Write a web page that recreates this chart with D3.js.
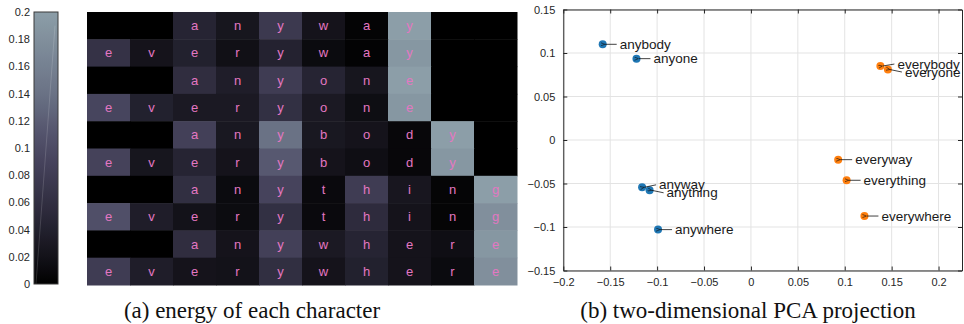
<!DOCTYPE html>
<html>
<head>
<meta charset="utf-8">
<script src="https://cdn.jsdelivr.net/npm/d3@7/dist/d3.min.js"></script>
<style>
  body { margin: 0; background: #fff; }
  svg { display: block; }
</style>
</head>
<body>
<svg id="fig" width="964" height="324"></svg>
<script>
// ---- data ----
var words = ["anyway", "everyway", "anyone", "everyone", "anybody",
  "everybody", "anything", "everything", "anywhere", "everywhere"];
// energy of each character, one list per word
var energy = [
  [0.045, 0.025, 0.075, 0.022, 0.004, 0.2],
  [0.065, 0.022, 0.04, 0.018, 0.042, 0.012, 0.003, 0.19],
  [0.058, 0.035, 0.08, 0.045, 0.025, 0.2],
  [0.092, 0.04, 0.03, 0.03, 0.062, 0.03, 0.015, 0.19],
  [0.085, 0.028, 0.14, 0.028, 0.022, 0.008, 0.2],
  [0.088, 0.025, 0.045, 0.022, 0.115, 0.022, 0.016, 0.008, 0.19],
  [0.06, 0.012, 0.09, 0.01, 0.08, 0.026, 0.005, 0.2],
  [0.105, 0.035, 0.02, 0.013, 0.062, 0.01, 0.055, 0.022, 0.005, 0.18],
  [0.058, 0.022, 0.085, 0.03, 0.045, 0.022, 0.016, 0.19],
  [0.08, 0.035, 0.022, 0.02, 0.06, 0.022, 0.04, 0.022, 0.012, 0.18]
];
var cbTicks = [0, 0.02, 0.04, 0.06, 0.08, 0.1, 0.12, 0.14, 0.16, 0.18, 0.2];

// PCA projection
var pcaWords = ["anybody", "anyone", "anyway", "anything", "anywhere",
  "everybody", "everyone", "everyway", "everything", "everywhere"];
var pcaX = [-0.158, -0.122, -0.116, -0.108, -0.099, 0.138, 0.146, 0.093, 0.102, 0.121];
var pcaY = [0.110, 0.0935, -0.0544, -0.0578, -0.103, 0.085, 0.081, -0.0226, -0.0463, -0.0874];
var pcaGroup = ["any", "any", "any", "any", "any", "every", "every", "every", "every", "every"];
var xTicks = [-0.2, -0.15, -0.1, -0.05, 0, 0.05, 0.1, 0.15, 0.2];
var yTicks = [-0.15, -0.1, -0.05, 0, 0.05, 0.1, 0.15];

var captions = ["(a) energy of each character", "(b) two-dimensional PCA projection"];

// ---- drawing ----
var svg = d3.select("#fig");
var sans = "'Liberation Sans', Arial, Helvetica, sans-serif";
var axisCol = "#262626";

var cStops = [0, 0.02, 0.05, 0.09, 0.11, 0.14, 0.2];
var color = d3.scaleLinear()
  .domain(cStops)
  .range(["#000000", "#131219", "#2a2838", "#46435c", "#53536c", "#6a7285", "#8c9ea8"])
  .clamp(true);

// colorbar
var cb = { x: 34, w: 24, top: 12, bottom: 284 };
var cbScale = d3.scaleLinear().domain([0, 0.2]).range([cb.bottom, cb.top]);
var grad = svg.append("defs").append("linearGradient")
  .attr("id", "cbgrad").attr("x1", 0).attr("y1", 1).attr("x2", 0).attr("y2", 0);
grad.selectAll("stop")
  .data(d3.range(0, 0.2001, 0.005)).enter().append("stop")
  .attr("offset", function (d) { return d / 0.2; })
  .attr("stop-color", function (d) { return color(d); });
svg.append("rect")
  .attr("x", cb.x).attr("y", cb.top)
  .attr("width", cb.w).attr("height", cb.bottom - cb.top)
  .attr("fill", "url(#cbgrad)");
svg.append("line")
  .attr("x1", cb.x + 2).attr("y1", cbScale(0))
  .attr("x2", cb.x + cb.w - 3).attr("y2", cbScale(0.19))
  .attr("stroke", "#fff").attr("stroke-opacity", 0.15).attr("stroke-width", 1);
svg.append("rect")
  .attr("x", cb.x).attr("y", cb.top)
  .attr("width", cb.w).attr("height", cb.bottom - cb.top)
  .attr("fill", "none").attr("stroke", "#3a3a3a").attr("stroke-width", 1);
var fmt = function (d) { return d3.format("")(+d.toFixed(2)); };
var cbAxis = svg.append("g")
  .attr("transform", "translate(" + cb.x + ",0)")
  .call(d3.axisLeft(cbScale).tickValues(cbTicks).tickSize(0).tickPadding(4).tickFormat(fmt));
cbAxis.select(".domain").remove();
cbAxis.selectAll("text").attr("font-family", sans).attr("font-size", 11).attr("fill", axisCol);

// heatmap
var nCols = 10;
var hx = d3.scaleBand().domain(d3.range(nCols)).range([87, 517]);
var hy = d3.scaleBand().domain(words).range([12, 285]);
var cells = [];
words.forEach(function (w, r) {
  var start = w.indexOf("every") === 0 ? 0 : 2;
  for (var c = 0; c < nCols; c++) {
    var i = c - start;
    var ch = (i >= 0 && i < w.length) ? w[i] : null;
    cells.push({ word: w, col: c, ch: ch, v: ch ? energy[r][i] : null });
  }
});
var hm = svg.append("g");
hm.selectAll("rect")
  .data(cells).enter().append("rect")
  .attr("x", function (d) { return hx(d.col); })
  .attr("y", function (d) { return hy(d.word); })
  .attr("width", hx.bandwidth() + 0.5)
  .attr("height", hy.bandwidth() + 0.5)
  .attr("fill", function (d) { return d.ch ? color(d.v) : "#000"; });
hm.selectAll("text")
  .data(cells.filter(function (d) { return d.ch; })).enter().append("text")
  .attr("x", function (d) { return hx(d.col) + hx.bandwidth() / 2; })
  .attr("y", function (d) { return hy(d.word) + hy.bandwidth() / 2; })
  .attr("text-anchor", "middle")
  .attr("dominant-baseline", "central")
  .attr("font-family", sans)
  .attr("font-size", 13)
  .attr("fill", "#e377c2")
  .text(function (d) { return d.ch; });

// scatter
var sx = d3.scaleLinear().domain([-0.2, 0.225]).range([563.3, 962]);
var sy = d3.scaleLinear().domain([-0.15, 0.15]).range([270.5, 9.5]);
var sc = svg.append("g");
sc.append("g").selectAll("line")
  .data(xTicks).enter().append("line")
  .attr("x1", sx).attr("x2", sx)
  .attr("y1", sy(-0.15)).attr("y2", sy(0.15))
  .attr("stroke", "#e3e3e3").attr("stroke-width", 1);
sc.append("g").selectAll("line")
  .data(yTicks).enter().append("line")
  .attr("y1", sy).attr("y2", sy)
  .attr("x1", sx(-0.2)).attr("x2", sx(0.225))
  .attr("stroke", "#e3e3e3").attr("stroke-width", 1);

function styleAxis(g) {
  g.select(".domain").attr("stroke", axisCol);
  g.selectAll(".tick line").attr("stroke", axisCol);
  g.selectAll("text").attr("font-family", sans).attr("font-size", 11).attr("fill", axisCol);
}
sc.append("g").attr("transform", "translate(0," + sy(-0.15) + ")")
  .call(d3.axisBottom(sx).tickValues(xTicks).tickSizeInner(-4).tickSizeOuter(0).tickPadding(8).tickFormat(fmt))
  .call(styleAxis);
sc.append("g").attr("transform", "translate(0," + sy(0.15) + ")")
  .call(d3.axisTop(sx).tickValues(xTicks).tickSizeInner(-4).tickSizeOuter(0).tickFormat(""))
  .call(styleAxis);
sc.append("g").attr("transform", "translate(" + sx(-0.2) + ",0)")
  .call(d3.axisLeft(sy).tickValues(yTicks).tickSizeInner(-4).tickSizeOuter(0).tickPadding(8).tickFormat(fmt))
  .call(styleAxis);
sc.append("g").attr("transform", "translate(" + sx(0.225) + ",0)")
  .call(d3.axisRight(sy).tickValues(yTicks).tickSizeInner(-4).tickSizeOuter(0).tickFormat(""))
  .call(styleAxis);

svg.select("defs").append("marker")
  .attr("id", "arr").attr("viewBox", "0 0 10 10")
  .attr("refX", 0).attr("refY", 5)
  .attr("markerWidth", 5).attr("markerHeight", 5)
  .attr("orient", "auto-start-reverse")
  .append("path").attr("d", "M10,1 L0,5 L10,9").attr("fill", "none").attr("stroke", "#111").attr("stroke-width", 1.5);

var pts = pcaWords.map(function (w, i) {
  return { name: w, x: pcaX[i], y: pcaY[i], g: pcaGroup[i] };
});
// small vertical nudges so the crowded labels sit as in the figure
var nudge = { everybody: -2, everyone: 2.5, anyway: -2.5, anything: 2.5 };
var dyOf = function (d) { return nudge[d.name] || 0; };
var groupColor = d3.scaleOrdinal().domain(["any", "every"]).range(["#1f77b4", "#ff7f0e"]);
sc.append("g").selectAll("circle")
  .data(pts).enter().append("circle")
  .attr("cx", function (d) { return sx(d.x); })
  .attr("cy", function (d) { return sy(d.y); })
  .attr("r", 4)
  .attr("fill", function (d) { return groupColor(d.g); });
var lab = sc.append("g");
lab.selectAll("line")
  .data(pts).enter().append("line")
  .attr("x1", function (d) { return sx(d.x) + 2; })
  .attr("y1", function (d) { return sy(d.y); })
  .attr("x2", function (d) { return sx(d.x) + 14; })
  .attr("y2", function (d) { return sy(d.y) + dyOf(d); })
  .attr("stroke", "#111").attr("stroke-width", 0.8)
  .attr("marker-start", "url(#arr)");
lab.selectAll("text")
  .data(pts).enter().append("text")
  .attr("x", function (d) { return sx(d.x) + 17; })
  .attr("y", function (d) { return sy(d.y) + dyOf(d); })
  .attr("dominant-baseline", "central")
  .attr("font-family", sans)
  .attr("font-size", 13.5)
  .attr("fill", "#1a1a1a")
  .text(function (d) { return d.name; });

// captions
svg.selectAll("text.cap")
  .data(captions).enter().append("text")
  .attr("class", "cap")
  .attr("x", function (d, i) { return i === 0 ? 252 : 748; })
  .attr("y", 318)
  .attr("text-anchor", "middle")
  .attr("font-family", "'Liberation Serif', 'Times New Roman', serif")
  .attr("font-size", 23)
  .attr("fill", "#111")
  .text(function (d) { return d; });
</script>
</body>
</html>
